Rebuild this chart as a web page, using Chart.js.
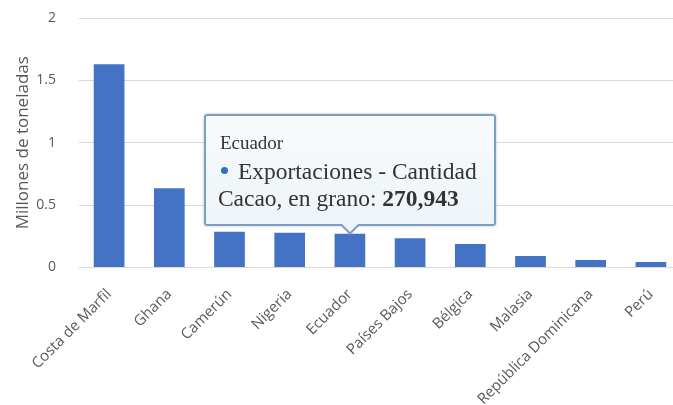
<!DOCTYPE html>
<html>
<head>
<meta charset="utf-8">
<script src="https://cdn.jsdelivr.net/npm/chart.js@4.4.1/dist/chart.umd.min.js"></script>
<style>
  html, body { margin: 0; padding: 0; background: #fff; overflow: hidden; }
  #wrap { position: relative; width: 673px; height: 405px; overflow: hidden; }
  #tip {
    position: absolute; box-sizing: border-box; width: 292px; height: 112px;
    border: 2px solid #7b9ec4; border-radius: 3px;
    background: linear-gradient(#f8fbfd, #eef4f8);
    box-shadow: 0 0 3px rgba(0,0,0,0.25);
    font-family: "Liberation Serif", serif; color: #333;
    padding: 15px 0 0 14px; display: none;
  }
  #tip::before, #tip::after {
    content: ""; position: absolute; left: 50%; border-style: solid;
    border-color: transparent; border-bottom: 0;
  }
  #tip::before { bottom: -11px; margin-left: -11px; border-width: 11px 11px 0; border-top-color: #7b9ec4; }
  #tip::after { bottom: -8px; margin-left: -9px; border-width: 9px 9px 0; border-top-color: #eef4f8; }
  #tip .t { font-size: 19px; line-height: 24px; }
  #tip .l { font-size: 23.5px; line-height: 28px; white-space: nowrap; margin-left: -2px; }
  #tip .l1 { margin-top: 2px; }
  #tip .l2 { margin-top: -1px; }
  #tip .dot { display: inline-block; width: 7px; height: 7px; border-radius: 50%; background: #2f6fc4; vertical-align: middle; margin: 0 10px 5px 3px; }
</style>
</head>
<body>
<div id="wrap">
  <canvas id="chart"></canvas>
  <div id="tip"></div>
</div>
<script>
const paises = ['Costa de Marfil', 'Ghana', 'Camerún', 'Nigeria', 'Ecuador', 'Países Bajos', 'Bélgica', 'Malasia', 'República Dominicana', 'Perú'];
const cantidad = [1.63, 0.636, 0.287, 0.279, 0.270943, 0.234, 0.189, 0.092, 0.06, 0.044];
const yTicks = [0, 0.5, 1, 1.5, 2];
const serie = 'Exportaciones - Cantidad';
const producto = 'Cacao, en grano';
const activo = 4;

const gris = '#595959';

function externalTip(context) {
  const tip = document.getElementById('tip');
  const model = context.tooltip;
  if (model.opacity === 0) { tip.style.display = 'none'; return; }
  const idx = model.dataPoints[0].dataIndex;
  const toneladas = Math.round(cantidad[idx] * 1000000).toLocaleString('en-US');
  tip.innerHTML =
    '<div class="t">' + paises[idx] + '</div>' +
    '<div class="l l1"><span class="dot"></span>' + serie + '</div>' +
    '<div class="l l2">' + producto + ': <b>' + toneladas + '</b></div>';
  tip.style.display = 'block';
  tip.style.left = (model.caretX - 146) + 'px';
  tip.style.top = (model.caretY - 112 - 8) + 'px';
}

const canvas = document.getElementById('chart');
canvas.width = 681;
canvas.height = 405;

const chart = new Chart(canvas, {
  type: 'bar',
  data: {
    labels: paises,
    datasets: [{
      label: serie,
      data: cantidad,
      backgroundColor: '#4472c4',
      barPercentage: 0.51,
      categoryPercentage: 1
    }]
  },
  options: {
    responsive: false,
    animation: false,
    events: [],
    layout: { padding: { top: 18, right: 0, bottom: 0, left: 0 } },
    plugins: {
      legend: { display: false },
      tooltip: { enabled: false, external: externalTip }
    },
    scales: {
      x: {
        grid: { display: false },
        border: { display: false },
        ticks: {
          color: gris,
          font: { family: 'Open Sans', size: 15 },
          minRotation: 45,
          maxRotation: 45,
          autoSkip: false,
          padding: 10
        },
        afterFit: (s) => { s.height = 137.5; }
      },
      y: {
        min: 0,
        max: 2,
        afterBuildTicks: (s) => { s.ticks = yTicks.map(v => ({ value: v })); },
        grid: { color: '#d9d9d9', drawTicks: false },
        border: { display: false },
        ticks: {
          color: gris,
          font: { family: 'Open Sans', size: 14 },
          padding: 23,
          callback: (v) => String(v)
        },
        title: {
          display: true,
          text: 'Millones de toneladas',
          color: gris,
          font: { family: 'Open Sans', size: 17 },
          padding: { top: 13, bottom: 0 }
        },
        afterFit: (s) => { s.width = 79; s.paddingTop = 0; s.paddingBottom = 0; }
      }
    }
  }
});

chart.tooltip.setActiveElements([{ datasetIndex: 0, index: activo }], { x: 0, y: 0 });
chart.update();
</script>
</body>
</html>
